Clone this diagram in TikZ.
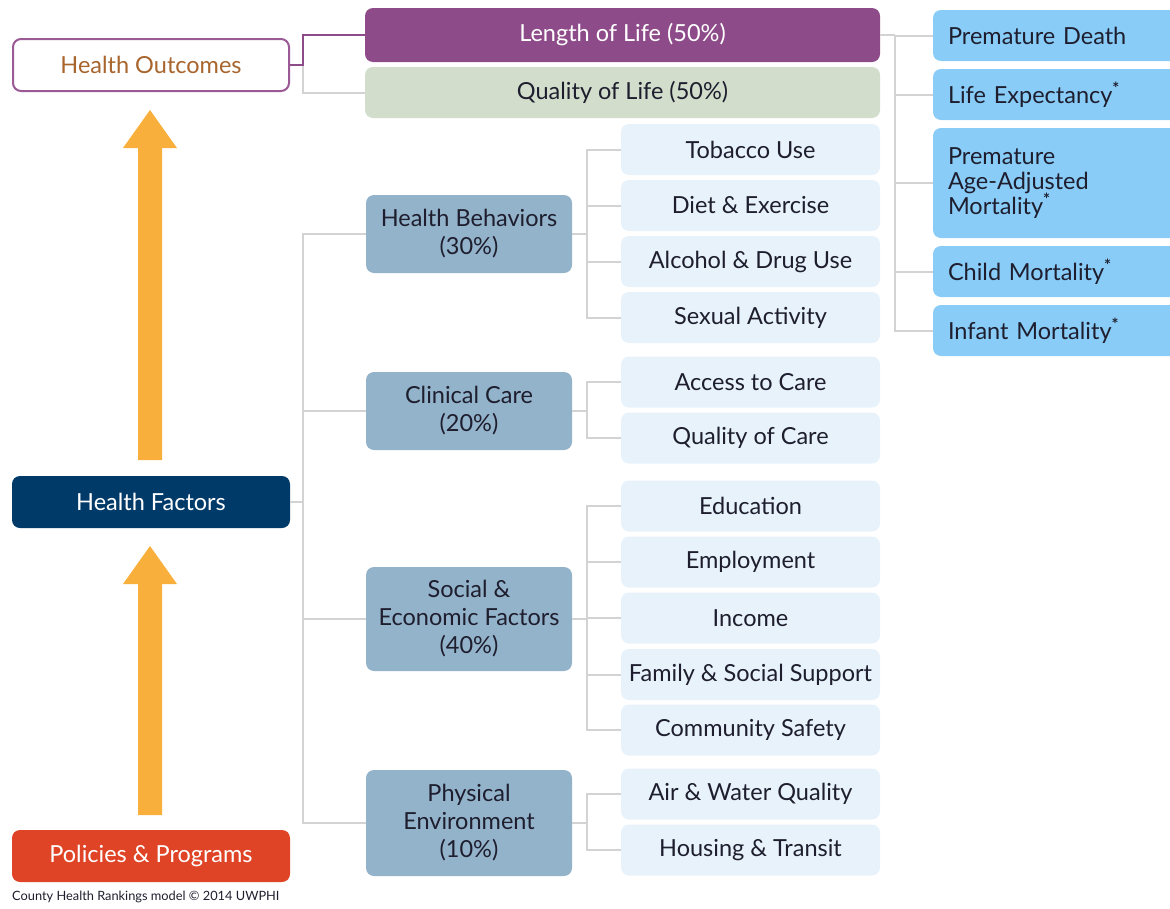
\documentclass[tikz,border=0pt]{standalone}
\usepackage{fontspec}
\setmainfont{Lato}
\definecolor{purp}{HTML}{8E4B8A}
\definecolor{hoborder}{HTML}{9B5A96}
\definecolor{hotext}{HTML}{A8652E}
\definecolor{qolfill}{HTML}{D2DDCB}
\definecolor{rightfill}{HTML}{88CCF7}
\definecolor{catfill}{HTML}{93B3CB}
\definecolor{subfill}{HTML}{E7F2FB}
\definecolor{navy}{HTML}{003A69}
\definecolor{redor}{HTML}{E04426}
\definecolor{arrowor}{HTML}{F9AF3C}
\definecolor{conngrey}{HTML}{D3D3D3}
\definecolor{darktext}{HTML}{1E1E2E}
\newcommand{\starmark}{\textsuperscript{\textbf{*}}}
\begin{document}
\begin{tikzpicture}[x=1pt,y=-1pt,
  base/.style={rectangle, rounded corners=8pt, inner sep=0pt, align=center,
    font=\fontsize{23.5}{28}\selectfont, text=darktext},
  outbox/.style={base, draw=hoborder, line width=2pt, fill=white, text=hotext,
    minimum width=276pt, minimum height=52pt},
  lolbox/.style={base, fill=purp, text=white, minimum width=515pt, minimum height=54pt},
  qolbox/.style={base, fill=qolfill, minimum width=515pt, minimum height=51pt},
  rbox/.style={base, fill=rightfill, align=left, text width=217pt, inner xsep=15pt,
    minimum width=247pt, minimum height=51pt},
  leftbox/.style={base, text=white, minimum width=278pt, minimum height=52pt},
  catbox/.style={base, fill=catfill, minimum width=206pt},
  subbox/.style={base, fill=subfill, minimum width=259pt, minimum height=51pt},
  conn/.style={draw=conngrey, line width=2pt},
  pconn/.style={draw=purp, line width=2pt},
  bigarrow/.style={fill=arrowor}
]
\useasboundingbox (0,0) rectangle (1170,908);

% left column
\node[outbox] (ho) at (151,65) {Health Outcomes};
\node[leftbox, fill=navy] (hf) at (151,502) {Health Factors};
\node[leftbox, fill=redor] (pp) at (151,856) {Policies \& Programs};
\node[anchor=west, inner sep=0pt, font=\fontsize{12.8}{14}\selectfont, text=darktext] (cap) at (12,897) {County Health Rankings model © 2014 UWPHI};

% arrows
\fill[bigarrow] (138,460) -- (138,148) -- (123,148) -- (150,110) -- (177,148) -- (162,148) -- (162,460) -- cycle;
\fill[bigarrow] (138,815) -- (138,584) -- (123,584) -- (150,546) -- (177,584) -- (162,584) -- (162,815) -- cycle;

% outcomes
\node[lolbox] (lol) at (622.5,35) {Length of Life (50\%)};
\node[qolbox] (qol) at (622.5,92.5) {Quality of Life (50\%)};

\node[rbox] (pd) at (1056.5,35.5) {Premature Death};
\node[rbox] (le) at (1056.5,94.5) {Life Expectancy\starmark};
\node[rbox, minimum height=110pt] (paam) at (1056.5,183) {Premature\\[-3pt]Age-Adjusted\\[-3pt]Mortality\starmark};
\node[rbox] (cm) at (1056.5,271.5) {Child Mortality\starmark};
\node[rbox] (im) at (1056.5,330.5) {Infant Mortality\starmark};

% factor categories
\node[catbox, minimum height=78pt] (hb) at (469,234) {Health Behaviors\\(30\%)};
\node[catbox, minimum height=78pt] (cc) at (469,411) {Clinical Care\\(20\%)};
\node[catbox, minimum height=104pt] (se) at (469,619) {Social \&\\Economic Factors\\(40\%)};
\node[catbox, minimum height=106pt] (pe) at (469,823) {Physical\\Environment\\(10\%)};

% sub items
\node[subbox] (tob) at (750.5,149.5) {Tobacco Use};
\node[subbox] (die) at (750.5,205.5) {Diet \& Exercise};
\node[subbox] (alc) at (750.5,261.5) {Alcohol \& Drug Use};
\node[subbox] (sex) at (750.5,317.5) {Sexual Activity};
\node[subbox] (acc) at (750.5,382) {Access to Care};
\node[subbox] (qoc) at (750.5,438) {Quality of Care};
\node[subbox] (edu) at (750.5,506) {Education};
\node[subbox] (emp) at (750.5,562) {Employment};
\node[subbox] (inc) at (750.5,618) {Income};
\node[subbox] (fam) at (750.5,674.5) {Family \& Social Support};
\node[subbox] (com) at (750.5,730) {Community Safety};
\node[subbox] (air) at (750.5,794) {Air \& Water Quality};
\node[subbox] (hou) at (750.5,850) {Housing \& Transit};

% connectors: outcomes
\coordinate (hoj) at ([xshift=13pt]ho.east);
\draw[conn] (hoj) |- (qol.west);
\draw[pconn] (ho.east) -- (hoj) |- (lol.west);

\coordinate (lj) at ([xshift=15pt]lol.east);
\draw[conn] (lol.east) -- (lj);
\foreach \t in {pd,le,paam,cm,im} \draw[conn] (lj) |- (\t.west);

% connectors: factors
\coordinate (hfj) at ([xshift=13pt]hf.east);
\draw[conn] (hf.east) -- (hfj);
\foreach \t in {hb,cc,se,pe} \draw[conn] (hfj) |- (\t.west);

\coordinate (hbj) at ([xshift=15pt]hb.east);
\draw[conn] (hb.east) -- (hbj);
\foreach \t in {tob,die,alc,sex} \draw[conn] (hbj) |- (\t.west);

\coordinate (ccj) at ([xshift=15pt]cc.east);
\draw[conn] (cc.east) -- (ccj);
\foreach \t in {acc,qoc} \draw[conn] (ccj) |- (\t.west);

\coordinate (sej) at ([xshift=15pt]se.east);
\draw[conn] (se.east) -- (sej);
\foreach \t in {edu,emp,inc,fam,com} \draw[conn] (sej) |- (\t.west);

\coordinate (pej) at ([xshift=15pt]pe.east);
\draw[conn] (pe.east) -- (pej);
\foreach \t in {air,hou} \draw[conn] (pej) |- (\t.west);
\end{tikzpicture}
\end{document}
